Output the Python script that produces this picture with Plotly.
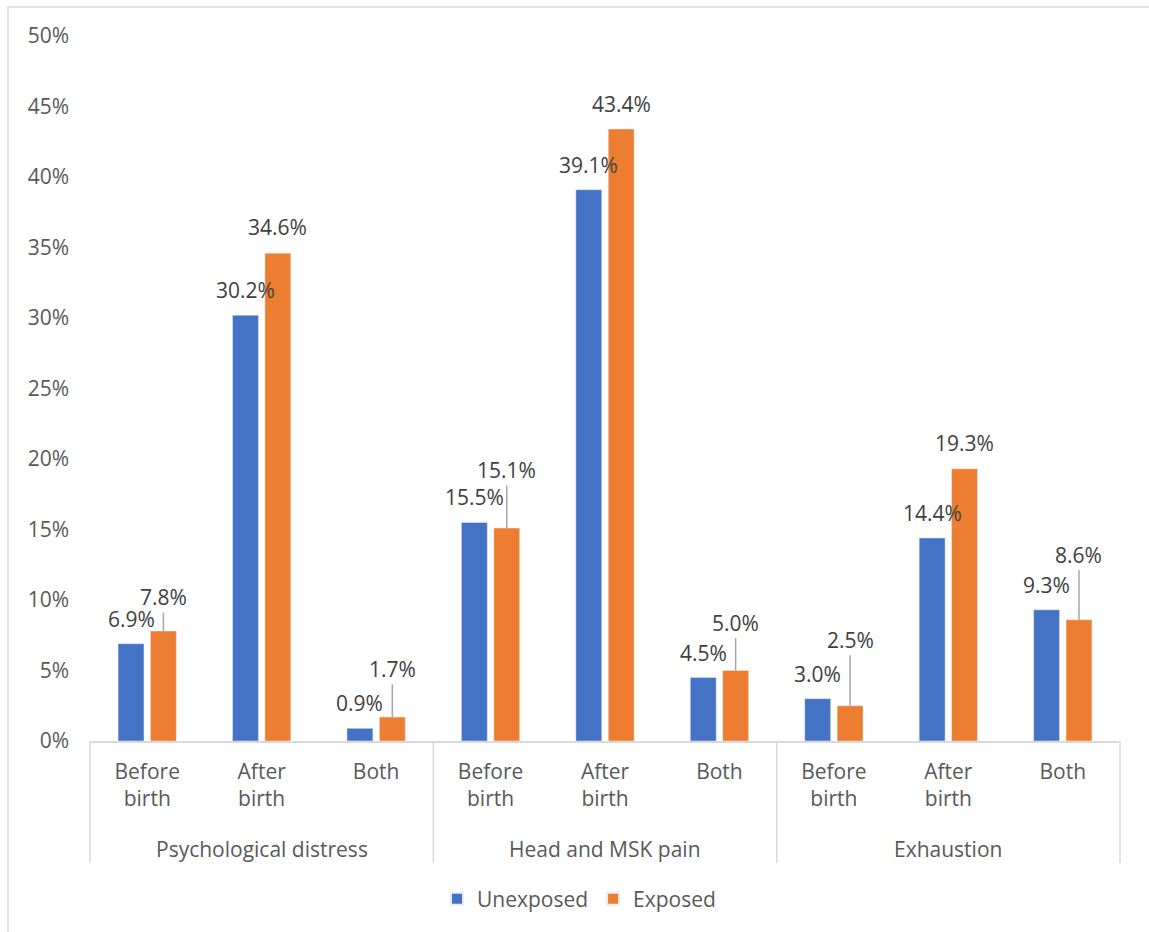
import plotly.graph_objects as go

# ---- data ----
groups = ["Psychological distress", "Head and MSK pain", "Exhaustion"]
subcats = ["Before birth", "After birth", "Both"]
sub_ticktext = ["Before<br>birth", "After<br>birth", "Both"]
unexposed = [6.9, 30.2, 0.9, 15.5, 39.1, 4.5, 3.0, 14.4, 9.3]
exposed = [7.8, 34.6, 1.7, 15.1, 43.4, 5.0, 2.5, 19.3, 8.6]
y_tickvals = [0, 5, 10, 15, 20, 25, 30, 35, 40, 45, 50]

# ---- label placement (style) ----
unexp_label_offset = [25] * 9
exp_label_offset = [34, 26, 48, 58, 25, 48, 66, 26, 65]
exp_leader = [True, False, True, True, False, True, True, False, True]

BLUE = "#4472C4"
ORANGE = "#ED7D31"
TXT = "#595959"
LBL = "#404040"
GRID = "#D9D9D9"
FONT = "Open Sans"
FS = 21

W, H = 1149, 932
ML, MR, MT, MB = 90, 29, 36, 191
BARGAP = 0.434
GROUPGAP = 0.2

keys = [f"{g}|{s}" for g in groups for s in subcats]
ticktext = [t for _ in groups for t in sub_ticktext]

fig = go.Figure()
fig.add_trace(go.Bar(name="Unexposed", x=keys, y=unexposed, marker_color=BLUE))
fig.add_trace(go.Bar(name="Exposed", x=keys, y=exposed, marker_color=ORANGE))

plot_w = W - ML - MR
plot_h = H - MT - MB
cat_px = plot_w / len(keys)
bar_off = cat_px * (1 - BARGAP) / 4

annotations = []
for k, v, off in zip(keys, unexposed, unexp_label_offset):
    annotations.append(dict(x=k, y=v, xref="x", yref="y", text=f"{v:.1f}%",
                            showarrow=True, ax=0, ay=-off, arrowhead=0,
                            arrowcolor="rgba(0,0,0,0)", xshift=-bar_off,
                            font=dict(family=FONT, size=FS, color=LBL)))
for k, v, off, lead in zip(keys, exposed, exp_label_offset, exp_leader):
    annotations.append(dict(x=k, y=v, xref="x", yref="y", text=f"{v:.1f}%",
                            showarrow=True, ax=0, ay=-off, arrowhead=0, standoff=0,
                            arrowwidth=1.5,
                            arrowcolor="#A6A6A6" if lead else "rgba(0,0,0,0)",
                            xshift=bar_off,
                            font=dict(family=FONT, size=FS, color=LBL)))

# group labels
grp_y = -(849 - (H - MB)) / plot_h
n_sub = len(subcats)
for gi, g in enumerate(groups):
    annotations.append(dict(x=(gi * n_sub + n_sub / 2) / len(keys), y=grp_y,
                            xref="paper", yref="paper", text=g, showarrow=False,
                            xanchor="center", yanchor="middle",
                            font=dict(family=FONT, size=FS, color=TXT)))

shapes = []
div_bottom = -(863 - (H - MB)) / plot_h
for gi in range(len(groups) + 1):
    xp = gi * n_sub / len(keys)
    shapes.append(dict(type="line", xref="paper", yref="paper", x0=xp, x1=xp,
                       y0=0, y1=div_bottom, line=dict(color=GRID, width=1.5)))
# chart area border
shapes.append(dict(type="rect", xref="paper", yref="paper",
                   x0=(8 - ML) / plot_w, x1=(W + 20 - ML) / plot_w,
                   y0=-(H + 20 - (H - MB)) / plot_h, y1=((H - MB) - 7) / plot_h,
                   line=dict(color=GRID, width=1.5), layer="below"))

fig.update_layout(
    width=W, height=H,
    margin=dict(l=ML, r=MR, t=MT, b=MB),
    paper_bgcolor="white", plot_bgcolor="white",
    barmode="group", bargap=BARGAP, bargroupgap=GROUPGAP,
    font=dict(family=FONT, size=FS, color=TXT),
    xaxis=dict(type="category", tickvals=keys, ticktext=ticktext,
               showline=True, linecolor=GRID, linewidth=1.5,
               ticks="", showgrid=False, ticklabelstandoff=11,
               tickfont=dict(family=FONT, size=FS, color=TXT)),
    yaxis=dict(range=[0, 50], tickvals=y_tickvals,
               ticktext=[f"{v}%" for v in y_tickvals],
               showgrid=False, zeroline=False, showline=False, ticks="",
               ticklabelstandoff=20,
               tickfont=dict(family=FONT, size=FS, color=TXT)),
    legend=dict(orientation="h", x=(579 - ML) / plot_w, xanchor="center",
                y=-(899 - (H - MB)) / plot_h, yanchor="middle",
                font=dict(family=FONT, size=FS, color=TXT),
                itemsizing="constant"),
    annotations=annotations,
    shapes=shapes,
)

fig.write_html("out.html")
